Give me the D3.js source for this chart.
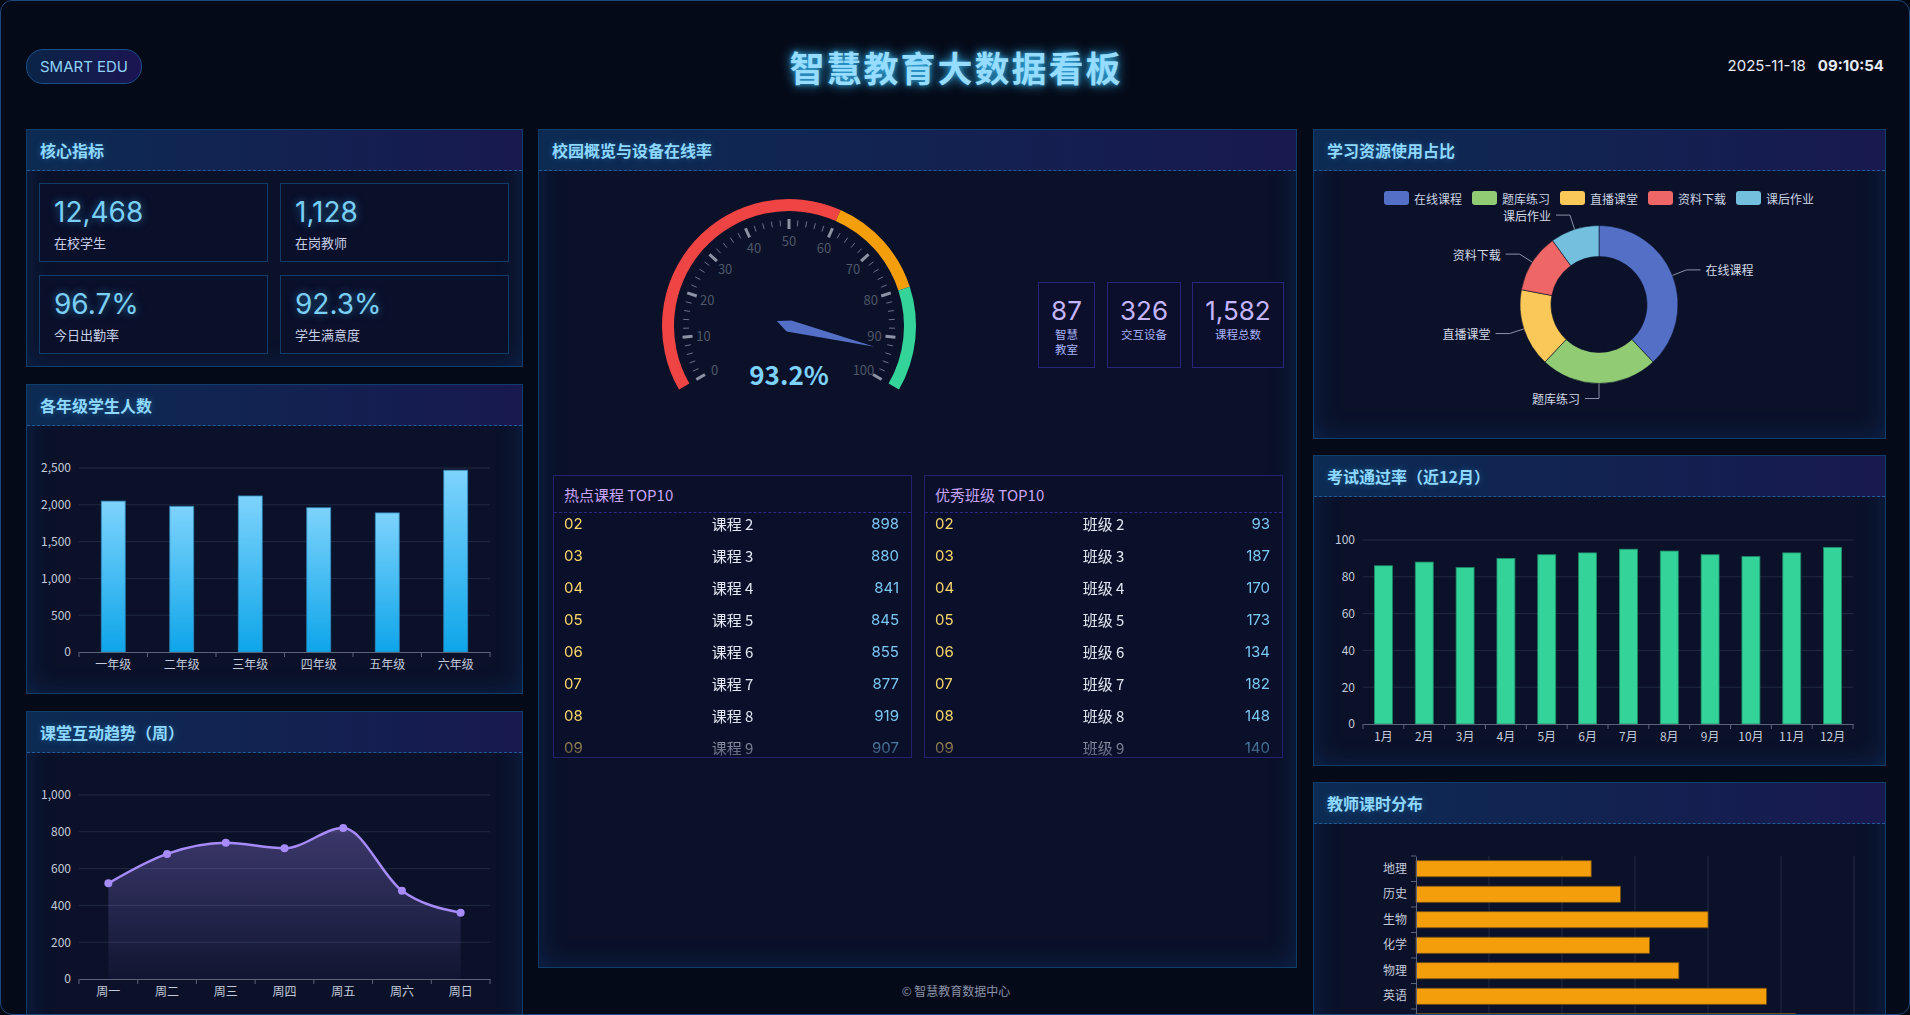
<!DOCTYPE html>
<html><head><meta charset="utf-8">
<script src="https://cdn.jsdelivr.net/npm/d3@7/dist/d3.min.js"></script>
<style>
html,body{margin:0;padding:0;background:#03070f;width:1910px;height:1015px;overflow:hidden;}
body{font-family:"Noto Sans CJK SC","Noto Sans",sans-serif;}
#app{position:absolute;left:0;top:0;width:1908px;height:1013px;border:1px solid #1b4a80;border-radius:12px;background:#050a18;overflow:hidden;}
.panel{position:absolute;background:#0a1129;border:1px solid #0f3e6c;box-shadow:inset 0 0 26px rgba(20,85,160,0.28);box-sizing:border-box;}
.ph{position:absolute;left:0;top:0;right:0;height:41px;background:linear-gradient(90deg,#0c2b53,#18194f);border-bottom:1px dashed #1f5b96;box-sizing:border-box;}
.ph span{position:absolute;left:13px;top:20px;transform:translateY(-50%);color:#8fd8ff;font-size:16px;font-weight:700;text-shadow:0 0 6px rgba(56,189,248,0.35);white-space:nowrap;}
.kpi{position:absolute;width:229px;height:79px;box-sizing:border-box;border:1px solid #0f3d68;background:#0a0f2a;}
.kpi .v{position:absolute;left:14px;top:8px;font-family:"Inter","Noto Sans",sans-serif;font-size:28px;line-height:40px;color:#79cff5;text-shadow:0 0 8px rgba(56,189,248,0.55);}
.kpi .l{position:absolute;left:14px;top:50px;font-size:13px;line-height:18px;color:#c7cfe6;}
.stat{position:absolute;top:281px;height:86px;box-sizing:border-box;border:1px solid #28267a;background:#0b0f2c;text-align:center;}
.stat .v{font-family:"Inter","Noto Sans",sans-serif;font-size:26px;line-height:30px;color:#c4b5fd;margin-top:13px;}
.stat .l{font-size:11.5px;line-height:15px;color:#a9b4f5;margin:1px auto 0;}
.list{position:absolute;top:474px;width:359px;height:283px;box-sizing:border-box;border:1px solid #25216e;background:#0a0f2a;}
.list .lh{position:absolute;left:0;right:0;top:0;height:37px;border-bottom:1px dashed #2b2a86;box-sizing:border-box;}
.list .lh span{position:absolute;left:10px;top:18px;transform:translateY(-50%);color:#c7a6f5;font-size:15px;white-space:nowrap;}
.list .body{position:absolute;left:0;right:0;top:37px;height:244px;overflow:hidden;
 -webkit-mask-image:linear-gradient(to bottom,#000 0%,#000 84%,rgba(0,0,0,0.35) 100%);mask-image:linear-gradient(to bottom,#000 0%,#000 84%,rgba(0,0,0,0.35) 100%);}
.row{position:absolute;left:0;right:0;height:32px;font-size:15px;line-height:32px;}
.row .r{position:absolute;left:10px;color:#fcd96a;font-family:"Inter","Noto Sans",sans-serif;}
.row .n{position:absolute;left:0;right:0;text-align:center;color:#e3e8f2;}
.row .c{position:absolute;right:12px;color:#7cc9f3;font-family:"Inter","Noto Sans",sans-serif;}
#charts{position:absolute;left:0;top:0;pointer-events:none;}
</style></head>
<body>
<div id="app"></div>
<script>
// ---------------- DATA ----------------
const kpiValues = ['12,468','1,128','96.7%','92.3%'];
const kpiLabels = ['在校学生','在岗教师','今日出勤率','学生满意度'];

const gradeCats = ['一年级','二年级','三年级','四年级','五年级','六年级'];
const gradeVals = [2050,1980,2120,1960,1890,2470];
const gradeTicks = [0,500,1000,1500,2000,2500];

const weekCats = ['周一','周二','周三','周四','周五','周六','周日'];
const weekVals = [520,680,740,710,820,480,360];
const weekTicks = [0,200,400,600,800,1000];

const gaugeValue = 93.2;
const gaugeTicks = [0,10,20,30,40,50,60,70,80,90,100];
const gaugeStops = [0.6,0.8,1.0];
const gaugeColors = ['#ef4444','#f59e0b','#34d399'];

const statValues = [87,326,1582];
const statLabels = ['智慧教室','交互设备','课程总数'];

const courseRanks = ['02','03','04','05','06','07','08','09'];
const courseNames = ['课程 2','课程 3','课程 4','课程 5','课程 6','课程 7','课程 8','课程 9'];
const courseVals = [898,880,841,845,855,877,919,907];
const classRanks = ['02','03','04','05','06','07','08','09'];
const classNames = ['班级 2','班级 3','班级 4','班级 5','班级 6','班级 7','班级 8','班级 9'];
const classVals = [93,187,170,173,134,182,148,140];

const resCats = ['在线课程','题库练习','直播课堂','资料下载','课后作业'];
const resVals = [38,24,16,12,10];
const resColors = ['#5470c6','#91cc75','#fac858','#ee6666','#73c0de'];

const monthCats = ['1月','2月','3月','4月','5月','6月','7月','8月','9月','10月','11月','12月'];
const passVals = [86,88,85,90,92,93,95,94,92,91,93,96];
const passTicks = [0,20,40,60,80,100];

const subjCats = ['地理','历史','生物','化学','物理','英语','数学'];
const subjVals = [12,14,20,16,18,24,26];
const hourTicks = [0,5,10,15,20,25,30];

// ---------------- LAYOUT (HTML) ----------------
const FONT = '"Noto Sans CJK SC","Noto Sans",sans-serif';
const app = d3.select('#app');

// header
app.append('div').style('position','absolute').style('left','25px').style('top','48px')
  .style('width','114px').style('height','33px').style('border','1px solid #1a4f8a').style('border-radius','17px')
  .style('background','linear-gradient(90deg,#0a2446,#1b1552)')
  .style('color','#8fd3f7').style('font-family','"Inter","Noto Sans",sans-serif').style('font-size','15px')
  .style('line-height','33px').style('text-align','center').text('SMART EDU');
app.append('div').style('position','absolute').style('left','0').style('width','1910px').style('top','44px')
  .style('text-align','center').style('font-size','35px').style('font-weight','700').style('letter-spacing','2px')
  .style('line-height','44px').style('color','#95dcff').style('text-shadow','0 0 12px rgba(56,189,248,0.95),0 0 4px rgba(56,189,248,0.6)')
  .text('智慧教育大数据看板');
const dt = app.append('div').style('position','absolute').style('right','25px').style('top','55px')
  .style('font-family','"Inter","Noto Sans",sans-serif').style('font-size','15px').style('line-height','20px').style('color','#e6ebf5');
dt.append('span').text('2025-11-18');
dt.append('span').style('font-weight','700').style('margin-left','12px').text('09:10:54');

function panel(x,y,w,h,title){
  const p = app.append('div').attr('class','panel').style('left',x+'px').style('top',y+'px').style('width',w+'px').style('height',h+'px');
  p.append('div').attr('class','ph').append('span').text(title);
  return p;
}
panel(25,128,497,238,'核心指标');
panel(25,383,497,310,'各年级学生人数');
panel(25,710,497,340,'课堂互动趋势（周）');
panel(537,128,759,839,'校园概览与设备在线率');
panel(1312,128,573,310,'学习资源使用占比');
panel(1312,454,573,311,'考试通过率（近12月）');
panel(1312,781,573,340,'教师课时分布');

// KPI cards
const kpiPos = [[38,182],[279,182],[38,274],[279,274]];
kpiValues.forEach((v,i)=>{
  const c = app.append('div').attr('class','kpi').style('left',kpiPos[i][0]+'px').style('top',kpiPos[i][1]+'px');
  c.append('div').attr('class','v').text(v);
  c.append('div').attr('class','l').text(kpiLabels[i]);
});

// stat boxes
const statPos = [[1037,57,26],[1106,74,60],[1191,92,60]];
statValues.forEach((v,i)=>{
  const b = app.append('div').attr('class','stat').style('left',statPos[i][0]+'px').style('width',statPos[i][1]+'px');
  b.append('div').attr('class','v').text(d3.format(',')(v));
  b.append('div').attr('class','l').style('width',statPos[i][2]+'px').text(statLabels[i]);
});

// lists
function list(x,title,ranks,names,vals){
  const l = app.append('div').attr('class','list').style('left',x+'px');
  l.append('div').attr('class','lh').append('span').text(title);
  const b = l.append('div').attr('class','body');
  ranks.forEach((r,i)=>{
    const row = b.append('div').attr('class','row').style('top',(i*32-5)+'px');
    row.append('span').attr('class','n').text(names[i]);
    row.append('span').attr('class','r').text(r);
    row.append('span').attr('class','c').text(vals[i]);
  });
}
list(552,'热点课程 TOP10',courseRanks,courseNames,courseVals);
list(923,'优秀班级 TOP10',classRanks,classNames,classVals);

// footer
app.append('div').style('position','absolute').style('left','0').style('width','1910px').style('top','981px')
  .style('text-align','center').style('font-size','12px').style('line-height','18px').style('color','#8b93a8')
  .text('© 智慧教育数据中心');

// ---------------- CHARTS (SVG) ----------------
const svg = app.append('svg').attr('id','charts').attr('width',1910).attr('height',1015)
  .attr('font-family',FONT);
const defs = svg.append('defs');
const g1 = defs.append('linearGradient').attr('id','gBlue').attr('x1',0).attr('y1',0).attr('x2',0).attr('y2',1);
g1.append('stop').attr('offset','0%').attr('stop-color','#7dd3fc');
g1.append('stop').attr('offset','100%').attr('stop-color','#0ea5e9');
const g2 = defs.append('linearGradient').attr('id','gPurple').attr('x1',0).attr('y1',0).attr('x2',0).attr('y2',1);
g2.append('stop').attr('offset','0%').attr('stop-color','#a78bfa').attr('stop-opacity',0.32);
g2.append('stop').attr('offset','100%').attr('stop-color','#a78bfa').attr('stop-opacity',0.04);

const GRID = '#222a42', AXIS = '#5b6479', LBL = '#c3cad9';

function styleAxis(a){
  a.attr('font-family',FONT).attr('font-size',12);
  a.selectAll('text').attr('fill',LBL);
}

// ---- 各年级学生人数 ----
{
  const x = d3.scaleBand().domain(gradeCats).range([78,489]);
  const y = d3.scaleLinear().domain([0,2500]).range([651,467]);
  const g = svg.append('g');
  g.selectAll('.gl').data(gradeTicks.slice(1)).join('line')
    .attr('x1',78).attr('x2',489).attr('y1',d=>y(d)).attr('y2',d=>y(d)).attr('stroke',GRID);
  const ya = g.append('g').attr('transform','translate(78,0)')
    .call(d3.axisLeft(y).tickValues(gradeTicks).tickSize(0).tickPadding(8).tickFormat(d3.format(',')));
  ya.select('.domain').remove(); styleAxis(ya);
  const bw = x.bandwidth()*0.35;
  g.selectAll('.bar').data(gradeVals).join('rect')
    .attr('x',(d,i)=>x(gradeCats[i])+(x.bandwidth()-bw)/2).attr('width',bw)
    .attr('y',d=>y(d)).attr('height',d=>y(0)-y(d)).attr('fill','url(#gBlue)')
    .attr('stroke','#2f86b8').attr('stroke-width',0.8);
  const xa = g.append('g').attr('transform','translate(0,651)')
    .call(d3.axisBottom(x).tickSize(0).tickPadding(8));
  xa.select('.domain').attr('stroke',AXIS); styleAxis(xa);
  g.selectAll('.bt').data(d3.range(gradeCats.length+1)).join('line')
    .attr('x1',i=>x.range()[0]+i*x.step()).attr('x2',i=>x.range()[0]+i*x.step())
    .attr('y1',651).attr('y2',656).attr('stroke',AXIS);
}

// ---- 课堂互动趋势 ----
{
  const x = d3.scaleBand().domain(weekCats).range([78,489]);
  const y = d3.scaleLinear().domain([0,1000]).range([978,794]);
  const cx = d=>x(d)+x.bandwidth()/2;
  const g = svg.append('g');
  g.selectAll('.gl').data(weekTicks.slice(1)).join('line')
    .attr('x1',78).attr('x2',489).attr('y1',d=>y(d)).attr('y2',d=>y(d)).attr('stroke',GRID);
  const ya = g.append('g').attr('transform','translate(78,0)')
    .call(d3.axisLeft(y).tickValues(weekTicks).tickSize(0).tickPadding(8).tickFormat(d3.format(',')));
  ya.select('.domain').remove(); styleAxis(ya);
  const pts = weekCats.map((c,i)=>[cx(c),y(weekVals[i])]);
  g.append('path').datum(pts).attr('fill','url(#gPurple)')
    .attr('d',d3.area().x(d=>d[0]).y0(y(0)).y1(d=>d[1]).curve(d3.curveMonotoneX));
  g.append('path').datum(pts).attr('fill','none').attr('stroke','#a78bfa').attr('stroke-width',2.5)
    .attr('d',d3.line().curve(d3.curveMonotoneX));
  g.selectAll('.pt').data(pts).join('circle').attr('cx',d=>d[0]).attr('cy',d=>d[1]).attr('r',4)
    .attr('fill','#a78bfa');
  const xa = g.append('g').attr('transform','translate(0,978)')
    .call(d3.axisBottom(x).tickSize(0).tickPadding(8));
  xa.select('.domain').attr('stroke',AXIS); styleAxis(xa);
  g.selectAll('.bt').data(d3.range(weekCats.length+1)).join('line')
    .attr('x1',i=>78+i*x.step()).attr('x2',i=>78+i*x.step())
    .attr('y1',978).attr('y2',983).attr('stroke',AXIS);
}

// ---- Gauge ----
{
  const cx = 788, cy = 325, R = 127, W = 12;
  const a = d3.scaleLinear().domain([0,100]).range([-2*Math.PI/3, 2*Math.PI/3]);
  const g = svg.append('g').attr('transform',`translate(${cx},${cy})`);
  let prev = 0;
  gaugeStops.forEach((s,i)=>{
    g.append('path').attr('fill',gaugeColors[i])
      .attr('d',d3.arc().innerRadius(R-W).outerRadius(R).startAngle(a(prev*100)).endAngle(a(s*100))());
    prev = s;
  });
  const minor = d3.range(0,101,2).filter(v=>v%10!==0);
  g.selectAll('.mt').data(minor).join('line')
    .attr('x1',v=>Math.sin(a(v))*106).attr('y1',v=>-Math.cos(a(v))*106)
    .attr('x2',v=>Math.sin(a(v))*100).attr('y2',v=>-Math.cos(a(v))*100)
    .attr('stroke','#6b7386').attr('stroke-width',1);
  g.selectAll('.st').data(gaugeTicks).join('line')
    .attr('x1',v=>Math.sin(a(v))*107).attr('y1',v=>-Math.cos(a(v))*107)
    .attr('x2',v=>Math.sin(a(v))*97).attr('y2',v=>-Math.cos(a(v))*97)
    .attr('stroke','#8c93a5').attr('stroke-width',3);
  g.selectAll('.tl').data(gaugeTicks).join('text')
    .attr('x',v=>Math.sin(a(v))*86).attr('y',v=>-Math.cos(a(v))*86)
    .attr('text-anchor','middle').attr('dominant-baseline','central')
    .attr('font-size',13).attr('fill','#4f5768').text(v=>v);
  const ang = a(gaugeValue)*180/Math.PI - 90;
  g.append('polygon').attr('points','-13,-2 1,-6 88,0 -1,6').attr('fill','#5470c6')
    .attr('transform',`rotate(${ang})`);
  g.append('text').attr('x',0).attr('y',47).attr('text-anchor','middle').attr('dominant-baseline','central')
    .attr('font-size',26).attr('font-weight',700).attr('fill','#7dd3fc').text(gaugeValue+'%');
}

// ---- Donut ----
{
  const cx = 1598, cy = 303.5, r0 = 48, r1 = 79;
  const g = svg.append('g');
  // legend
  resCats.forEach((c,i)=>{
    const lx = 1383 + i*88;
    g.append('rect').attr('x',lx).attr('y',190).attr('width',25).attr('height',14).attr('rx',3).attr('fill',resColors[i]);
    g.append('text').attr('x',lx+30).attr('y',197).attr('dominant-baseline','central')
      .attr('font-size',12).attr('fill','#cbd3e3').text(c);
  });
  const pie = d3.pie().sort(null)(resVals);
  const arc = d3.arc().innerRadius(r0).outerRadius(r1);
  const pg = g.append('g').attr('transform',`translate(${cx},${cy})`);
  pg.selectAll('path').data(pie).join('path').attr('d',arc).attr('fill',(d,i)=>resColors[i])
    .attr('stroke','#0a1129').attr('stroke-width',0.6);
  pie.forEach((p,i)=>{
    const m = (p.startAngle+p.endAngle)/2, sx = Math.sin(m), sy = -Math.cos(m);
    const right = sx > 0.01;
    const p1 = [r1*sx, r1*sy], p2 = [(r1+15)*sx, (r1+15)*sy], p3 = [p2[0]+(right?14:-14), p2[1]];
    pg.append('polyline').attr('points',[p1,p2,p3].map(q=>q.join(',')).join(' '))
      .attr('fill','none').attr('stroke','#8a93a6').attr('stroke-width',1);
    pg.append('text').attr('x',p3[0]+(right?5:-5)).attr('y',p3[1]).attr('dominant-baseline','central')
      .attr('text-anchor',right?'start':'end').attr('font-size',12).attr('fill','#d3d9e6').text(resCats[i]);
  });
}

// ---- 考试通过率 ----
{
  const x = d3.scaleBand().domain(monthCats).range([1362,1852]);
  const y = d3.scaleLinear().domain([0,100]).range([723,539]);
  const g = svg.append('g');
  g.selectAll('.gl').data(passTicks.slice(1)).join('line')
    .attr('x1',1362).attr('x2',1852).attr('y1',d=>y(d)).attr('y2',d=>y(d)).attr('stroke',GRID);
  const ya = g.append('g').attr('transform','translate(1362,0)')
    .call(d3.axisLeft(y).tickValues(passTicks).tickSize(0).tickPadding(8));
  ya.select('.domain').remove(); styleAxis(ya);
  const bw = x.bandwidth()*0.44;
  g.selectAll('.bar').data(passVals).join('rect')
    .attr('x',(d,i)=>x(monthCats[i])+(x.bandwidth()-bw)/2).attr('width',bw)
    .attr('y',d=>y(d)).attr('height',d=>y(0)-y(d)).attr('fill','#34d399')
    .attr('stroke','#1f8a68').attr('stroke-width',0.8);
  const xa = g.append('g').attr('transform','translate(0,723)')
    .call(d3.axisBottom(x).tickSize(0).tickPadding(8));
  xa.select('.domain').attr('stroke',AXIS); styleAxis(xa);
  g.selectAll('.bt').data(d3.range(monthCats.length+1)).join('line')
    .attr('x1',i=>1362+i*x.step()).attr('x2',i=>1362+i*x.step())
    .attr('y1',723).attr('y2',728).attr('stroke',AXIS);
}

// ---- 教师课时分布 ----
{
  const y = d3.scaleBand().domain(subjCats).range([855,855+subjCats.length*25.5]);
  const x = d3.scaleLinear().domain([0,30]).range([1415,1853]);
  const g = svg.append('g');
  g.selectAll('.gl').data(hourTicks.slice(1)).join('line')
    .attr('x1',d=>x(d)).attr('x2',d=>x(d)).attr('y1',855).attr('y2',y.range()[1]).attr('stroke',GRID);
  const bh = y.bandwidth()*0.63;
  g.selectAll('.bar').data(subjVals).join('rect')
    .attr('y',(d,i)=>y(subjCats[i])+(y.bandwidth()-bh)/2).attr('height',bh)
    .attr('x',x(0)).attr('width',d=>x(d)-x(0)).attr('fill','#f59e0b')
    .attr('stroke','#7a5210').attr('stroke-width',0.8);
  const ya = g.append('g').attr('transform','translate(1415,0)')
    .call(d3.axisLeft(y).tickSize(0).tickPadding(9));
  ya.select('.domain').attr('stroke',AXIS); styleAxis(ya);
  g.selectAll('.bt').data(d3.range(subjCats.length+1)).join('line')
    .attr('y1',i=>855+i*y.step()).attr('y2',i=>855+i*y.step())
    .attr('x1',1410).attr('x2',1415).attr('stroke',AXIS);
}
</script>
</body></html>
